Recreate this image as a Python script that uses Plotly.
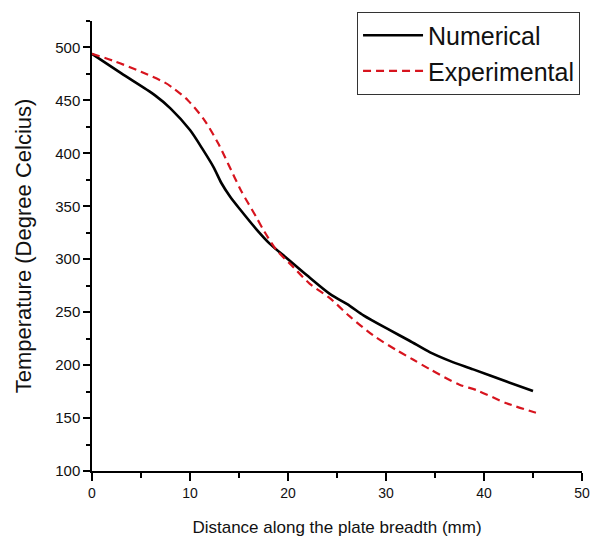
import plotly.graph_objects as go

# Numerical (solid black)
num_x = [0, 3, 6.4, 8, 10, 11.35, 12.4, 13.2, 14.1, 15.2, 16.8, 18.1, 20,
         21.9, 24.3, 26.3, 27.7, 30.4, 32.4, 34.5, 36.5, 38.9, 42.3, 45]
num_t = [494, 475.5, 455, 442.5, 422, 403, 387, 372, 359, 346, 328, 315, 300,
         285, 267, 256, 247, 233, 223, 212, 204, 196, 184.5, 175.5]

# Experimental (dashed red)
exp_x = [0, 2.3, 5, 7.4, 8.3, 9.8, 11.5, 12.9, 13.9, 15.2, 16.75, 17.6, 18.8, 20.5,
         22.2, 24.3, 26.3, 28.7, 31.1, 32.8, 34.5, 37.5, 39.2, 42.3, 45.3]
exp_t = [494, 487, 477, 467, 461.5, 450, 431, 409, 390, 365, 340, 326, 309, 293,
         277, 263, 246, 228, 214, 205, 196, 181.5, 176.5, 164, 155]

x_ticks = [0, 10, 20, 30, 40, 50]
y_ticks = [100, 150, 200, 250, 300, 350, 400, 450, 500]

FONT = "Liberation Sans, Arial, sans-serif"

fig = go.Figure()
fig.add_trace(go.Scatter(
    x=num_x, y=num_t, mode="lines", name="Numerical",
    line=dict(color="black", width=2.6, shape="spline", smoothing=0.8),
))
fig.add_trace(go.Scatter(
    x=exp_x, y=exp_t, mode="lines", name="Experimental",
    line=dict(color="#d7141e", width=2.2, dash="8px,5px", shape="spline", smoothing=0.8),
))

fig.update_layout(
    width=600, height=537,
    margin=dict(l=92, r=18, t=21, b=66),
    paper_bgcolor="white", plot_bgcolor="white",
    font=dict(family=FONT, color="#111"),
    showlegend=True,
    legend=dict(
        x=0.996, y=1.021, xanchor="right", yanchor="top",
        bgcolor="white", bordercolor="#333", borderwidth=1,
        font=dict(size=25, family=FONT, color="#111"),
        tracegroupgap=0, itemwidth=60,
    ),
    xaxis=dict(
        range=[0, 50], tickvals=x_ticks, ticktext=[str(v) for v in x_ticks],
        showgrid=False, zeroline=False,
        showline=True, linecolor="black", linewidth=1.5,
        ticks="outside", ticklen=8, tickwidth=1.5, tickcolor="black",
        tickfont=dict(size=14, family=FONT, color="#111"),
        minor=dict(ticks="outside", dtick=5, tick0=0, ticklen=5, tickwidth=1.5, tickcolor="black"),
        title=dict(text="Distance along the plate breadth (mm)",
                   font=dict(size=17, family=FONT, color="#111"), standoff=22),
        automargin=False,
    ),
    yaxis=dict(
        range=[100, 525], tickvals=y_ticks, ticktext=[str(v) for v in y_ticks],
        showgrid=False, zeroline=False,
        showline=True, linecolor="black", linewidth=1.5,
        ticks="outside", ticklen=7, tickwidth=1.5, tickcolor="black",
        tickfont=dict(size=15, family=FONT, color="#111"),
        minor=dict(ticks="outside", dtick=25, tick0=0, ticklen=4, tickwidth=1.5, tickcolor="black"),
        title=dict(text="Temperature (Degree Celcius)",
                   font=dict(size=22, family=FONT, color="#111"), standoff=18),
        automargin=False,
    ),
)

fig.write_html("out.html", config={"displayModeBar": False},
               post_script="document.body.style.margin='0';")
